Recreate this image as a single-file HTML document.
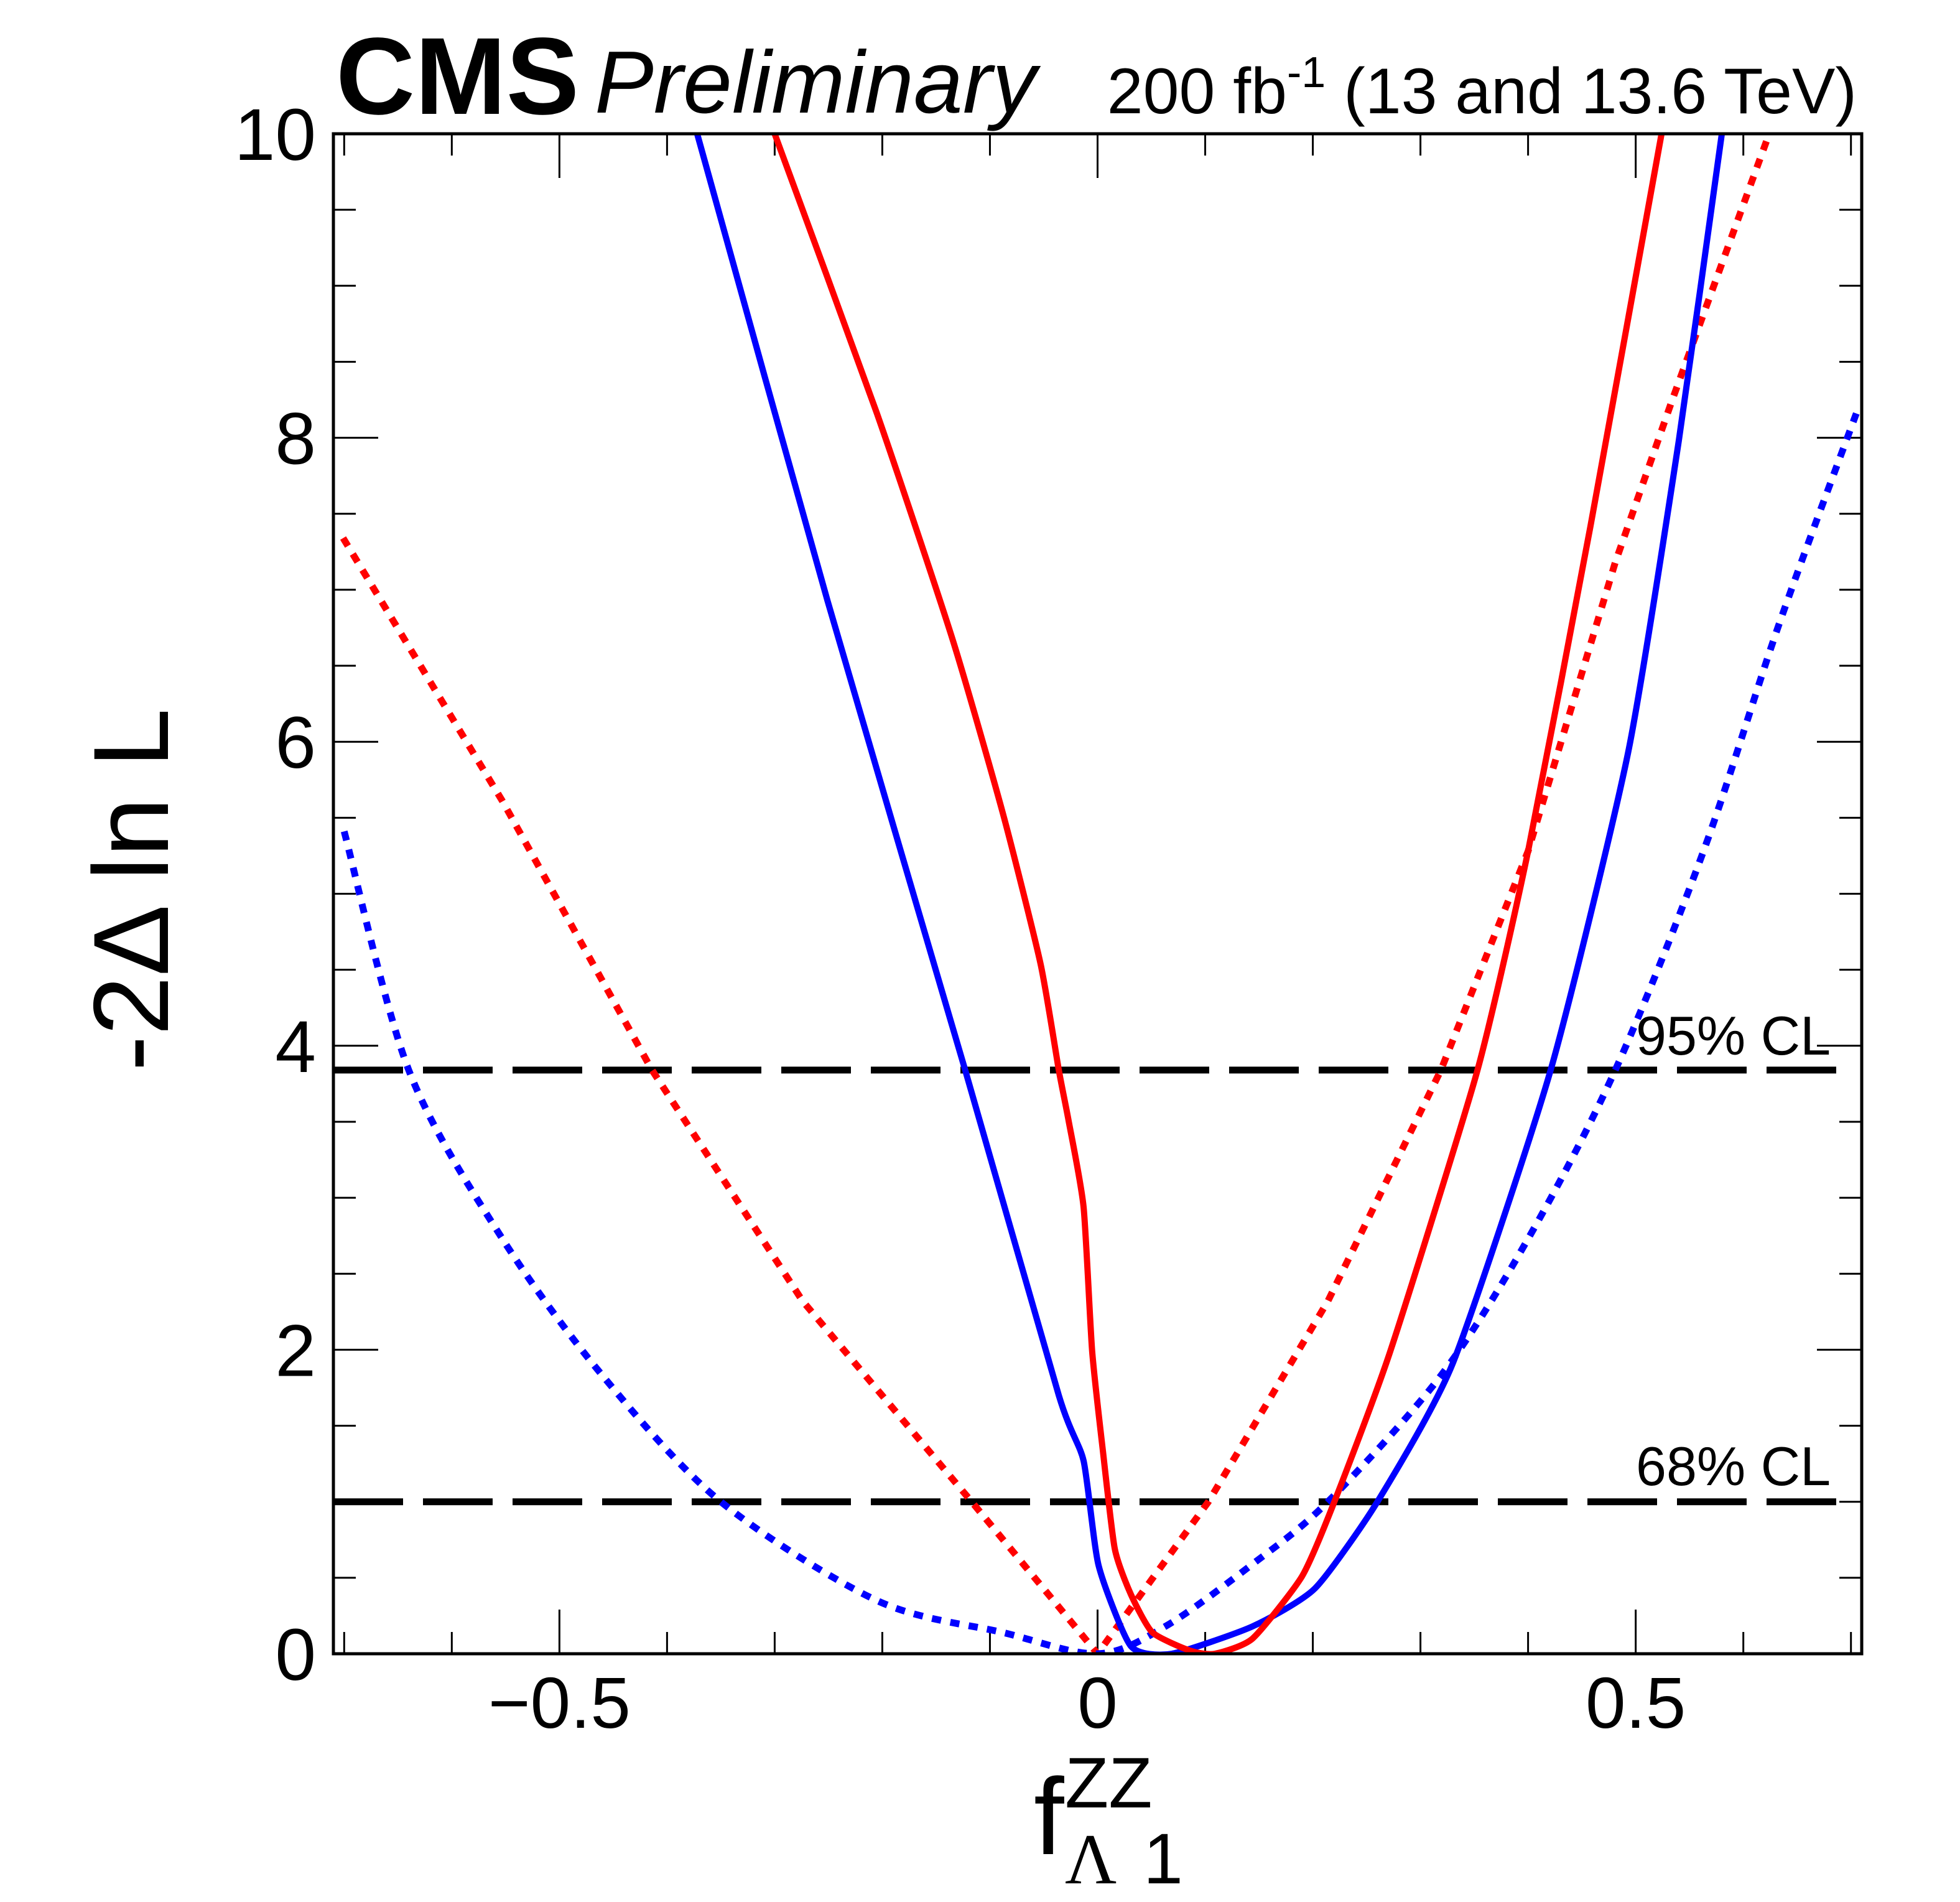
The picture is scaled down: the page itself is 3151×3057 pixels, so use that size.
<!DOCTYPE html>
<html><head><meta charset="utf-8"><style>
html,body{margin:0;padding:0;background:#fff;}
svg{display:block;font-family:"Liberation Sans",sans-serif;}
</style></head><body>
<svg id="chart" width="3151" height="3057" viewBox="0 0 3151 3057" xmlns="http://www.w3.org/2000/svg">
<defs><clipPath id="plotclip"><rect x="536" y="215" width="2457" height="2443"/></clipPath></defs>
<rect width="3151" height="3057" fill="#fff"/>
<g id="axes"></g>
<g id="curves" clip-path="url(#plotclip)"></g>
<rect x="536" y="215" width="2457" height="2443" fill="none" stroke="#000" stroke-width="5"/>
<text x="540" y="183" font-size="176" font-weight="bold">CMS</text>
<text x="956" y="181" font-size="142" font-style="italic">Preliminary</text>
<text x="2985" y="182" font-size="104" text-anchor="end">200 fb<tspan dy="-42" font-size="70">-1</tspan><tspan dy="42"> (13 and 13.6 TeV)</tspan></text>
<text transform="translate(270,1430) rotate(-90)" font-size="172" text-anchor="middle">-2Δ ln L</text>
<g>
<text x="1662" y="2980" font-size="175">f</text>
<text x="1712" y="2905" font-size="115">ZZ</text>
<text x="1712" y="3027" font-size="115" font-family="'Liberation Serif',serif">Λ</text>
<text x="1838" y="3027" font-size="115">1</text>
</g>
<text x="2630" y="1695" font-size="88">95% CL</text>
<text x="2630" y="2387" font-size="88">68% CL</text>
</svg>
<script>
const xTicksMajor=[-0.5,0,0.5];
const xTickLabels=["\u22120.5","0","0.5"];
const yTicksMajor=[0,2,4,6,8,10];
const yTickLabels=["0","2","4","6","8","10"];
const clLevels=[3.84,1.0];
const blueSolidX=[-0.372,-0.251,-0.123,-0.036,-0.013,0.001,0.031,0.069,0.144,0.202,0.26,0.33,0.421,0.493,0.54,0.58];
const blueSolidY=[10,6.93,3.84,1.70,1.27,0.58,0.05,0,0.18,0.43,1.0,1.91,3.84,5.93,7.98,10];
const redSolidX=[-0.30,-0.205,-0.135,-0.088,-0.053,-0.036,-0.027,-0.013,-0.005,0.005,0.016,0.031,0.051,0.086,0.109,0.144,0.19,0.22,0.272,0.353,0.40,0.458,0.524];
const redSolidY=[10,8.16,6.68,5.53,4.54,3.84,3.51,2.94,1.99,1.33,0.69,0.39,0.14,0.02,0,0.10,0.51,1.0,1.99,3.84,5.28,7.42,10];
const redDotX=[-0.701,-0.553,-0.414,-0.274,-0.117,0,0.103,0.214,0.319,0.40,0.481,0.534,0.624];
const redDotY=[7.34,5.61,3.84,2.32,1.0,0,1.0,2.32,3.84,5.28,7.18,8.25,10];
const blueDotX=[-0.70,-0.64,-0.553,-0.46,-0.35,-0.205,-0.088,0,0.063,0.144,0.214,0.319,0.40,0.481,0.563,0.633,0.705];
const blueDotY=[5.41,3.84,2.73,1.83,1.0,0.35,0.14,0,0.18,0.59,1.0,1.83,2.73,3.84,5.28,6.77,8.16];

const X0=536,X1=2993,Y0=2658,Y1=215,XMIN=-0.71,XMAX=0.71,YMIN=0,YMAX=10;
function sx(v){return X0+(v-XMIN)/(XMAX-XMIN)*(X1-X0);}
function sy(v){return Y0-(v-YMIN)/(YMAX-YMIN)*(Y0-Y1);}
const NS="http://www.w3.org/2000/svg";
const axes=document.getElementById('axes');
const curves=document.getElementById('curves');
function mk(tag,attrs,parent){const e=document.createElementNS(NS,tag);for(const k in attrs)e.setAttribute(k,attrs[k]);parent.appendChild(e);return e;}

for(let i=-7;i<=7;i++){
  const v=i/10, x=sx(v), major=(i%5===0), L=major?71:35;
  const t1=mk('line',{x1:x,x2:x,y1:Y0,y2:Y0-L,stroke:'#000','stroke-width':3},axes);
  
  
  const t2=mk('line',{x1:x,x2:x,y1:Y1,y2:Y1+L,stroke:'#000','stroke-width':3},axes);
  
  
}
xTicksMajor.forEach((v,i)=>{
  const t=mk('text',{x:sx(v),y:2777,'font-size':116,'text-anchor':'middle'},axes);
  t.textContent=xTickLabels[i];
  
  
});
for(let i=0;i<=20;i++){
  const v=i/2, y=sy(v), major=(i%4===0), L=major?72:36;
  const t1=mk('line',{x1:X0,x2:X0+L,y1:y,y2:y,stroke:'#000','stroke-width':3},axes);
  
  
  const t2=mk('line',{x1:X1,x2:X1-L,y1:y,y2:y,stroke:'#000','stroke-width':3},axes);
  
  
}
yTicksMajor.forEach((v,i)=>{
  const t=mk('text',{x:508,y:sy(v)+42,'font-size':118,'text-anchor':'end'},axes);
  t.textContent=yTickLabels[i];
  
  
});
clLevels.forEach(v=>{
  const l=mk('line',{x1:X0,x2:X1-16,y1:sy(v),y2:sy(v),stroke:'#000','stroke-width':11,'stroke-dasharray':'112 32'},curves);
  
  
});
function smoothPath(xs,ys,t){
  const P=xs.map((x,i)=>[sx(x),sy(ys[i])]);
  let d='M'+P[0][0].toFixed(1)+','+P[0][1].toFixed(1);
  for(let i=0;i<P.length-1;i++){
    const p0=P[Math.max(0,i-1)],p1=P[i],p2=P[i+1],p3=P[Math.min(P.length-1,i+2)];
    const c1=[p1[0]+(p2[0]-p0[0])*t,p1[1]+(p2[1]-p0[1])*t];
    const c2=[p2[0]-(p3[0]-p1[0])*t,p2[1]-(p3[1]-p1[1])*t];
    d+=' C'+c1[0].toFixed(1)+','+c1[1].toFixed(1)+' '+c2[0].toFixed(1)+','+c2[1].toFixed(1)+' '+p2[0].toFixed(1)+','+p2[1].toFixed(1);
  }
  return d;
}
function series(xs,ys,color,dash,t,name){
  const a={d:smoothPath(xs,ys,t),fill:'none',stroke:color,'stroke-width':dash?11:10,'stroke-linejoin':'round'};
  if(dash)a['stroke-dasharray']='15 15';
  const p=mk('path',a,curves);
  
  
}
series(redDotX,redDotY,'#ff0000',true,0,'red-dotted-curve');
series(blueDotX,blueDotY,'#0000ff',true,0.15,'blue-dotted-curve');
series(blueSolidX,blueSolidY,'#0000ff',false,0.1,'blue-solid-curve');
series(redSolidX,redSolidY,'#ff0000',false,0.1,'red-solid-curve');
</script>
</body></html>
